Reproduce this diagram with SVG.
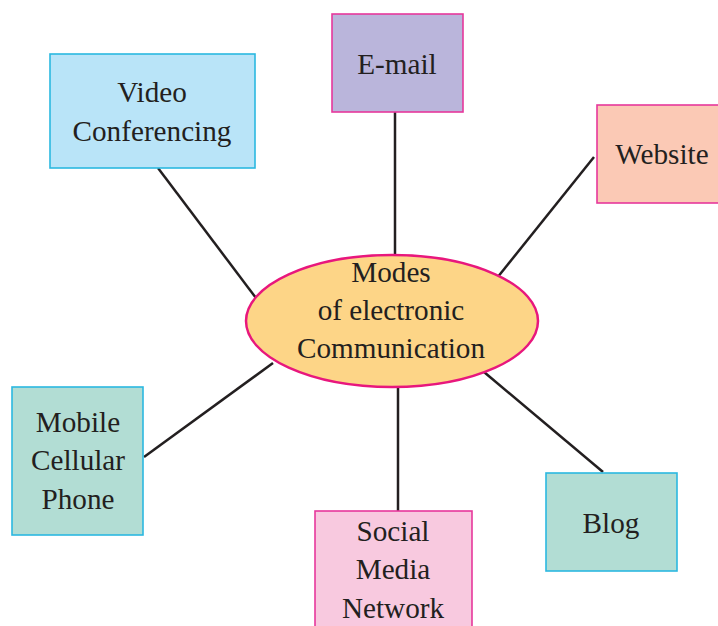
<svg xmlns="http://www.w3.org/2000/svg" width="718" height="626" viewBox="0 0 718 626">
<style>
text{font-family:"Liberation Serif","Times New Roman",serif;font-size:29.2px;fill:#231f20;text-anchor:middle}
.line{stroke:#231f20;stroke-width:2.5;fill:none}
.pink{stroke:#e6389c;stroke-width:1.6}
.cyan{stroke:#2bb8e0;stroke-width:1.6}
</style>
<rect width="718" height="626" fill="#fff"/>
<g id="connectors">
<line class="line" x1="158" y1="168" x2="256" y2="298"/>
<line class="line" x1="395" y1="112" x2="395" y2="256"/>
<line class="line" x1="594" y1="157" x2="497" y2="278"/>
<line class="line" x1="144" y1="457" x2="273" y2="363"/>
<line class="line" x1="398" y1="386" x2="398" y2="511"/>
<line class="line" x1="484" y1="372" x2="603" y2="472"/>
</g>
<g id="center">
<ellipse cx="392" cy="321" rx="146" ry="66" fill="#fdd587" stroke="#e8177d" stroke-width="2.5"/>
<text x="391" y="282">Modes</text>
<text x="391" y="320">of electronic</text>
<text x="391" y="358">Communication</text>
</g>
<g id="video">
<rect class="cyan" x="50" y="54" width="205" height="114" fill="#b9e4f8"/>
<text x="152" y="102">Video</text>
<text x="152" y="141">Conferencing</text>
</g>
<g id="email">
<rect class="pink" x="332" y="14" width="131" height="98" fill="#bab5db"/>
<text x="397" y="74">E-mail</text>
</g>
<g id="website">
<rect class="pink" x="597" y="105" width="125" height="98" fill="#fbc9b5"/>
<text x="662" y="164">Website</text>
</g>
<g id="mobile">
<rect class="cyan" x="12" y="387" width="131" height="148" fill="#b2ddd4"/>
<text x="78" y="432">Mobile</text>
<text x="78" y="470">Cellular</text>
<text x="78" y="509">Phone</text>
</g>
<g id="social">
<rect class="pink" x="315" y="511" width="157" height="120" fill="#f8c9df"/>
<text x="393" y="541">Social</text>
<text x="393" y="579">Media</text>
<text x="393" y="618">Network</text>
</g>
<g id="blog">
<rect class="cyan" x="546" y="473" width="131" height="98" fill="#b2ddd4"/>
<text x="611" y="533">Blog</text>
</g>
</svg>
